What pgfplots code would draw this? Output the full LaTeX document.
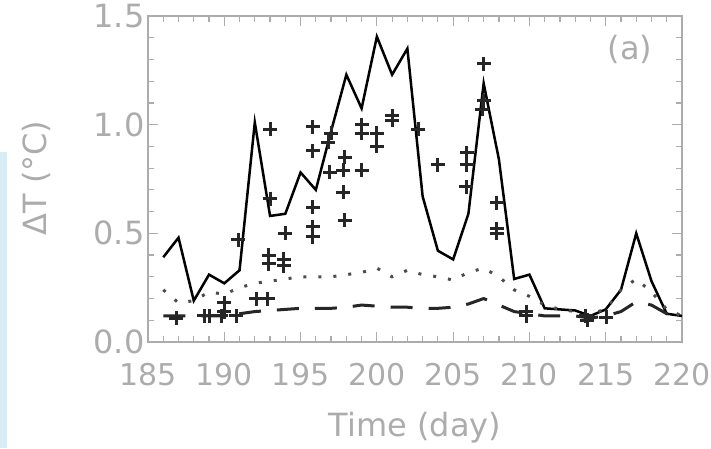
\documentclass[border=0pt]{standalone}
\usepackage{fontspec}
\setmainfont{DejaVu Sans}
\usepackage{pgfplots}
\pgfplotsset{compat=1.18}
\usepackage{pgfplotstable}

\definecolor{axgray}{RGB}{172,172,172}
\definecolor{barblue}{RGB}{216,236,243}

% model curves: solid, dotted, dashed
\pgfplotstableread{
day solid dotted dashed
186 0.39  0.24  0.12
187 0.48  0.18  0.12
188 0.19  0.19  0.12
189 0.31  0.23  0.12
190 0.27  0.22  0.12
191 0.33  0.25  0.13
192 1.01  0.27  0.14
193 0.58  0.28  0.145
194 0.59  0.29  0.15
195 0.78  0.30  0.155
196 0.70  0.30  0.155
197 0.97  0.30  0.155
198 1.23  0.31  0.16
199 1.075 0.32  0.17
200 1.405 0.34  0.165
201 1.23  0.30  0.16
202 1.35  0.33  0.16
203 0.67  0.31  0.155
204 0.42  0.30  0.155
205 0.38  0.285 0.16
206 0.59  0.32  0.175
207 1.19  0.34  0.20
208 0.84  0.30  0.17
209 0.29  0.24  0.14
210 0.31  0.21  0.13
211 0.155 0.17  0.12
212 0.15  0.15  0.12
213 0.145 0.14  0.12
214 0.12  0.13  0.11
215 0.15  0.15  0.12
216 0.24  0.24  0.14
217 0.50  0.29  0.185
218 0.28  0.23  0.17
219 0.13  0.15  0.13
220 0.12  0.12  0.11
}\model

% observations (+)
\pgfplotstableread{
day dT
186.85 0.11
188.7 0.12
189.0 0.12
189.8 0.12
190.0 0.14
190.0 0.18
190.8 0.12
190.9 0.47
192.1 0.20
192.85 0.20
192.9 0.40
192.9 0.36
193.9 0.38
193.9 0.35
193.0 0.66
193.0 0.98
194.0 0.50
195.8 0.99
195.8 0.88
195.8 0.62
195.8 0.53
195.8 0.485
196.8 0.92
197.0 0.96
196.9 0.78
197.9 0.85
197.8 0.79
197.8 0.69
197.9 0.56
199.0 1.00
199.0 0.96
199.0 0.79
200.0 0.96
200.0 0.90
201.0 1.04
201.0 1.02
202.7 0.98
204.0 0.815
205.9 0.87
205.9 0.815
205.85 0.715
207.0 1.28
207.0 1.11
206.9 1.07
207.85 0.64
207.85 0.52
207.85 0.50
209.8 0.14
209.8 0.12
213.7 0.12
213.8 0.10
215.05 0.115
}\obs

\begin{document}
\begin{tikzpicture}[x=1pt,y=1pt]
\fill[barblue] (0,0) rectangle (7,296);
\begin{axis}[
  at={(148pt,106pt)}, anchor=south west,
  scale only axis, width=534pt, height=326pt,
  xmin=185, xmax=220, ymin=0, ymax=1.5,
  xtick={185,190,...,220}, ytick={0,0.5,1,1.5},
  minor x tick num=4, minor y tick num=4,
  tick align=inside, major tick length=10pt, minor tick length=6pt,
  axis line style={axgray, line width=1.5pt},
  every tick/.style={axgray, line width=1.2pt},
  /pgf/number format/assume math mode=true,
  tick label style={font=\fontsize{32}{40}\selectfont, text=axgray},
  xticklabel style={font=\fontsize{30}{36}\selectfont, anchor=center, yshift=-33pt, /pgf/number format/set thousands separator={}},
  yticklabel style={/pgf/number format/.cd, fixed, fixed zerofill, precision=1},
  label style={font=\fontsize{32}{40}\selectfont, text=axgray},
  xlabel={Time (day)},
  xlabel style={at={(axis description cs:0.5,-0.264)}, anchor=center},
  ylabel={ΔT (°C)},
  ylabel style={at={(axis description cs:-0.208,0.503)}, anchor=center},
]
\addplot[black, line width=2.5pt] table[x=day, y=solid] {\model};
\addplot[black!70, line width=3pt, dash pattern=on 3pt off 12pt] table[x=day, y=dotted] {\model};
\addplot[black!85, line width=3pt, dash pattern=on 22pt off 16pt] table[x=day, y=dashed] {\model};
\addplot[only marks, mark=+, mark size=7pt, black!85, line width=3pt] table[x=day, y=dT] {\obs};
\node[text=axgray, font=\fontsize{32}{40}\selectfont] at (axis cs:216.6,1.344) {(a)};
\end{axis}
\pgfresetboundingbox
\path[use as bounding box] (0,0) rectangle (711,448);
\end{tikzpicture}
\end{document}
